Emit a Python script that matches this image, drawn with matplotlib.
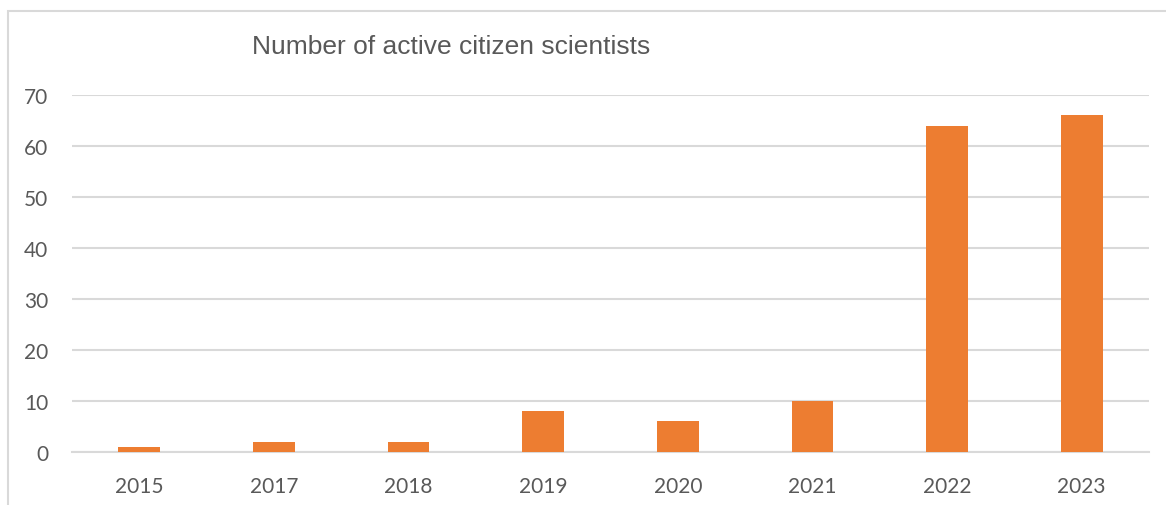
import matplotlib.pyplot as plt
from matplotlib.patches import Rectangle

years = ["2015", "2017", "2018", "2019", "2020", "2021", "2022", "2023"]
scientists = [1, 2, 2, 8, 6, 10, 64, 66]

BAR_COLOR = "#ED7D31"
GRID_COLOR = "#D9D9D9"
TEXT_COLOR = "#595959"

fig = plt.figure(figsize=(11.66, 5.06), dpi=100)
ax = fig.add_axes([72 / 1166, 1 - 453 / 506, (1149 - 72) / 1166, (453 - 96) / 506])

x = range(len(years))
ax.bar(x, scientists, width=0.31, color=BAR_COLOR, zorder=3)

ax.set_xlim(-0.5, len(years) - 0.5)
ax.set_ylim(0, 70)
ax.set_yticks(range(0, 71, 10))
ax.set_xticks(list(x))
ax.set_xticklabels(years)

ax.grid(axis="y", color=GRID_COLOR, linewidth=1.5, zorder=0)
for side in ["top", "right", "left"]:
    ax.spines[side].set_visible(False)
ax.spines["bottom"].set_color(GRID_COLOR)
ax.spines["bottom"].set_linewidth(1.5)
ax.tick_params(length=0, labelsize=15, labelcolor=TEXT_COLOR, pad=17)
for lbl in ax.get_xticklabels() + ax.get_yticklabels():
    lbl.set_family("Lato")

fig.text(451 / 1166, 1 - 47 / 506, "Number of active citizen scientists",
         ha="center", va="center", fontsize=19, color=TEXT_COLOR,
         family="Liberation Sans")

# chart frame, running off the right and bottom edges
fig.patches.append(Rectangle((8 / 1166, -0.1), 1.1, 1.1 - 12 / 506,
                             transform=fig.transFigure, fill=False,
                             edgecolor=GRID_COLOR, linewidth=1.5))

fig.savefig("out.png", dpi=100)
